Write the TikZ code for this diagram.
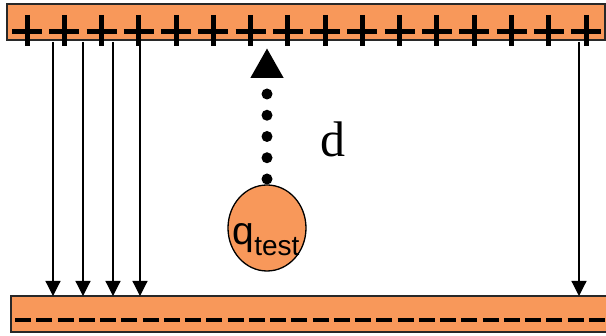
\documentclass[tikz,border=0pt]{standalone}
\usepackage{fontspec}
\setmainfont{Liberation Serif}
\newfontfamily\arialf{Liberation Sans}
\usetikzlibrary{arrows.meta,shapes.geometric}
\definecolor{plateorange}{RGB}{248,152,90}
\definecolor{plateedge}{RGB}{40,40,40}
\tikzset{
  plate/.style={draw=plateedge, line width=1.8pt, fill=plateorange, rectangle, inner sep=0pt, outer sep=0pt},
  plusmark/.style={line width=5pt, black},
  minusmark/.style={line width=4.5pt, black, dash pattern=on 16pt off 5.25pt},
  field/.style={line width=1.2pt, -{Triangle[width=15pt,length=15pt]}},
  charge/.style={ellipse, draw=black, line width=1.3pt, fill=plateorange, minimum width=78pt, minimum height=86pt, inner sep=0pt, outer sep=0pt},
  dotarrow/.style={line width=11pt, line cap=round, dash pattern=on 0pt off 21.25pt, dash phase=15.25pt, -{Triangle[width=31pt,length=30pt]}},
}
\begin{document}
\begin{tikzpicture}[x=1pt,y=-1pt]
\useasboundingbox (0,0) rectangle (606,336);
% plates
\node[plate, minimum width=598pt, minimum height=36pt] (top) at (306,22) {};
\node[plate, minimum width=609pt, minimum height=36pt] (bot) at (315.5,314) {};
% plus signs
\foreach \i in {0,...,15}{
  \pgfmathsetmacro{\px}{27+37.27*\i}
  \draw[plusmark] (\px-15,32) -- (\px+15,32);
  \draw[plusmark] (\px,15) -- (\px,46);
}
% minus signs
\draw[minusmark] (15,320) -- (612,320);
% field lines
\foreach \fx in {53,83,113,140,579}{
  \draw[field] (\fx,0 |- top.south) ++(0,2) -- (\fx,0 |- bot.north);
}
% test charge
\node[charge] (q) at (267,228) {};
\node[font=\arialf\fontsize{39}{39}\selectfont, anchor=base, inner sep=0pt] (qt) at (266,245) {q\raisebox{-11pt}{\fontsize{28}{28}\selectfont test}};
% distance arrow
\coordinate (dtip) at (267,48);
\draw[dotarrow] (q.north) -- (dtip);
\node[font=\fontsize{50}{50}\selectfont, anchor=base west, inner sep=0pt] (dlabel) at (320.5,157) {d};
\end{tikzpicture}
\end{document}
